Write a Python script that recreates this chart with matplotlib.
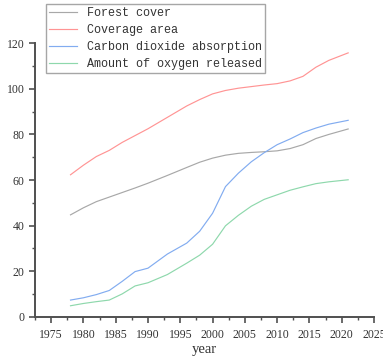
import matplotlib

matplotlib.use("Agg")

import matplotlib.pyplot as plt
from matplotlib.ticker import MultipleLocator

years = [1978, 1980, 1982, 1984, 1986, 1988, 1990, 1993, 1996, 1998, 2000,
         2002, 2004, 2006, 2008, 2010, 2012, 2014, 2016, 2018, 2021]
forest_cover = [44.7, 47.8, 50.5, 52.5, 54.5, 56.5, 58.6, 62.0, 65.5, 67.8, 69.6,
                70.9, 71.7, 72.1, 72.4, 72.8, 73.8, 75.5, 78.2, 80.0, 82.4]
coverage_area = [62.3, 66.5, 70.3, 73.0, 76.5, 79.5, 82.5, 87.5, 92.5, 95.3, 97.8,
                 99.3, 100.3, 101.0, 101.7, 102.3, 103.5, 105.5, 109.5, 112.5, 115.8]
co2_absorption = [7.3, 8.3, 9.7, 11.5, 15.5, 19.8, 21.3, 27.5, 32.3, 37.5, 45.4,
                  57.1, 63.0, 68.0, 72.0, 75.5, 78.0, 80.8, 82.8, 84.5, 86.2]
oxygen_released = [4.8, 5.8, 6.6, 7.3, 10.0, 13.5, 14.9, 18.5, 23.5, 27.0, 31.8,
                   39.9, 44.5, 48.5, 51.5, 53.5, 55.5, 57.0, 58.4, 59.2, 60.1]

series = [
    ("Forest cover", forest_cover, "#a8a8a8"),
    ("Coverage area", coverage_area, "#ff9494"),
    ("Carbon dioxide absorption", co2_absorption, "#82acf0"),
    ("Amount of oxygen released", oxygen_released, "#8ed8ac"),
]

plt.rcParams["font.family"] = ["Liberation Mono", "DejaVu Sans Mono"]

fig = plt.figure(figsize=(3.83, 3.6), dpi=100)
ax = fig.add_axes([0.0914, 0.1203, 0.8851, 0.7594])

for label, values, color in series:
    ax.plot(years, values, color=color, lw=0.85, label=label)

ax.set_xlim(1972.5, 2025)
ax.set_ylim(0, 120)
ax.xaxis.set_major_locator(MultipleLocator(5))
ax.xaxis.set_minor_locator(MultipleLocator(2.5))
ax.yaxis.set_major_locator(MultipleLocator(20))
ax.yaxis.set_minor_locator(MultipleLocator(10))

for side in ("top", "right"):
    ax.spines[side].set_visible(False)
for side in ("left", "bottom"):
    ax.spines[side].set_color("#505050")
    ax.spines[side].set_linewidth(1.4)

ax.tick_params(which="major", length=4, width=1.2, color="#505050",
               labelsize=8.5, labelcolor="#333333", direction="out")
ax.tick_params(which="minor", length=2.5, width=1.0, color="#505050", direction="out")
ax.tick_params(axis="x", pad=5)
for lbl in ax.get_xticklabels() + ax.get_yticklabels():
    lbl.set_family("Liberation Serif")

ax.set_xlabel("year", fontsize=10.5, color="#333333", labelpad=1, family="Liberation Serif")

leg = fig.legend(loc="upper left", bbox_to_anchor=(46 / 383, 1 - 4 / 360),
                 fontsize=8.5, frameon=True, fancybox=False, borderaxespad=0,
                 handlelength=2.4, labelspacing=0.42, borderpad=0.25,
                 handletextpad=0.8)
leg.get_frame().set_edgecolor("#909090")
leg.get_frame().set_linewidth(1.0)
for text in leg.get_texts():
    text.set_color("#333333")

fig.savefig("out.png", dpi=100)
